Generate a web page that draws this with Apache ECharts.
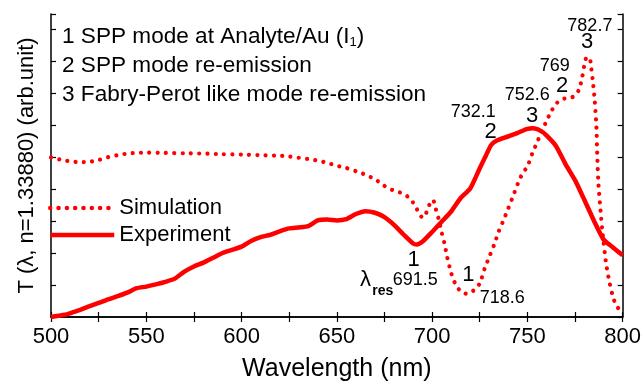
<!DOCTYPE html>
<html>
<head>
<meta charset="utf-8">
<script src="https://cdn.jsdelivr.net/npm/echarts@6/dist/echarts.min.js"></script>
<style>
html,body{margin:0;padding:0;background:#fff;}
#chart{width:644px;height:387px;}
</style>
</head>
<body>
<div id="chart"></div>
<script>
const FONT = '"Liberation Sans", Arial, Helvetica, sans-serif';

// simulated transmission, wavelength in nm
const simWl = [500, 505, 510, 515, 520, 525, 530, 535, 540, 545, 550, 560, 570, 580, 590, 600,
    610, 620, 625, 630, 635, 640, 645, 650, 655, 660, 665, 670, 675, 680, 685, 688, 690, 692.5,
    695, 697.5, 699, 700.5, 702, 703.5, 705, 706.5, 708, 710, 712, 715, 718.6, 722, 725, 727.5,
    730, 732.5, 735, 737.5, 740, 742.5, 745, 747.5, 750, 752.5, 755, 757.5, 760, 762.5, 765, 768,
    772, 775, 777, 778.5, 780, 781, 782.7, 783.5, 784.5, 785.3, 786.2, 786.7, 787.3, 788.4, 789.6,
    791.3, 793, 795.3, 797.5, 800];
const simT = [4.99, 4.92, 4.87, 4.84, 4.85, 4.91, 5.00, 5.06, 5.11, 5.13, 5.14, 5.13, 5.12, 5.11,
    5.09, 5.08, 5.06, 5.04, 5.02, 4.98, 4.94, 4.89, 4.82, 4.73, 4.66, 4.56, 4.45, 4.31, 4.10, 3.95,
    3.86, 3.72, 3.58, 3.32, 3.10, 3.32, 3.58, 3.66, 3.37, 3.05, 2.65, 2.30, 1.85, 1.38, 1.06, 0.80,
    0.72, 0.84, 1.05, 1.50, 1.88, 2.25, 2.68, 3.03, 3.40, 3.78, 4.17, 4.50, 4.70, 5.10, 5.45, 5.80,
    6.12, 6.43, 6.66, 6.82, 6.84, 6.92, 7.10, 7.42, 7.90, 8.11, 8.10, 7.80, 7.30, 6.80, 6.00, 5.00,
    4.15, 3.32, 2.55, 1.68, 1.11, 0.55, 0.29, 0.10];

// measured transmission
const expWl = [500, 504, 508, 512, 516, 520, 525, 530, 535, 540, 545, 550, 555, 560, 565, 570,
    575, 580, 585, 590, 595, 600, 605, 610, 615, 620, 625, 630, 635, 640, 645, 650, 655, 660, 665,
    670, 675, 680, 685, 690, 692, 695, 700, 705, 710, 715, 720, 725, 728, 731, 734, 740, 745, 750,
    753, 757, 760, 765, 770, 775, 780, 785, 790, 794, 800];
const expT = [0.00, 0.04, 0.08, 0.16, 0.24, 0.33, 0.44, 0.55, 0.65, 0.76, 0.90, 0.95, 1.02, 1.10,
    1.20, 1.42, 1.58, 1.70, 1.85, 2.00, 2.10, 2.20, 2.38, 2.50, 2.57, 2.68, 2.77, 2.80, 2.84, 3.02,
    3.05, 3.02, 3.06, 3.22, 3.31, 3.26, 3.12, 2.88, 2.58, 2.30, 2.27, 2.36, 2.66, 2.98, 3.30, 3.72,
    4.02, 4.65, 5.02, 5.38, 5.52, 5.65, 5.76, 5.88, 5.90, 5.82, 5.68, 5.35, 4.78, 4.28, 3.65, 3.00,
    2.42, 2.22, 1.93];

const xMin = 500, xMax = 800, xStep = 50;
const yMax = 9.475;

// peak / dip labels: text, wavelength, value, kind
const notes = [
    ['1', 690.3, 1.79, 'big'],
    ['λ', 665.0, 1.17, 'big'],
    ['res', 674.1, 0.80, 'sub'],
    ['691.5', 691.2, 1.17, 'num'],
    ['1', 719.0, 1.33, 'big'],
    ['718.6', 736.8, 0.60, 'num'],
    ['732.1', 721.6, 6.42, 'num'],
    ['2', 730.7, 5.79, 'big'],
    ['3', 752.5, 6.29, 'big'],
    ['752.6', 749.9, 6.94, 'num'],
    ['2', 768.2, 7.23, 'big'],
    ['769', 764.4, 7.85, 'num'],
    ['3', 781.4, 8.59, 'big'],
    ['782.7', 782.8, 9.10, 'num']
];
const modeLines = [
    '1 SPP mode at Analyte/Au (I{s|1})',
    '2 SPP mode re-emission',
    '3 Fabry-Perot like mode re-emission'
];

const pairs = (xs, ys) => xs.map((x, i) => [x, ys[i]]);

const chart = echarts.init(document.getElementById('chart'));

const frame = { show: true, lineStyle: { color: '#000', width: 1.5 } };
const tick = { show: true, inside: true, length: 5, lineStyle: { color: '#000', width: 1.2 } };
const minor = { show: true, splitNumber: 2, length: 5, lineStyle: { color: '#000', width: 1.2 } };

const option = {
    animation: false,
    backgroundColor: '#fff',
    grid: { left: 51, right: 19, top: 14, bottom: 66 },
    legend: {
        orient: 'vertical',
        left: 48,
        top: 197,
        padding: 0,
        itemWidth: 64,
        itemHeight: 12,
        itemGap: 5,
        data: ['Simulation', 'Experiment'],
        itemStyle: { opacity: 0 },
        lineStyle: { width: 4.5 },
        textStyle: { fontFamily: FONT, fontSize: 22, color: '#000' }
    },
    xAxis: [{
        type: 'value', min: xMin, max: xMax, interval: xStep,
        axisLine: frame, axisTick: tick, minorTick: minor,
        splitLine: { show: false },
        axisLabel: { fontFamily: FONT, fontSize: 22, color: '#000', margin: 9,
            showMinLabel: true, showMaxLabel: true },
        name: 'Wavelength (nm)', nameLocation: 'middle', nameGap: 40,
        nameTextStyle: { fontFamily: FONT, fontSize: 25, color: '#000' }
    }, {
        type: 'value', position: 'top', min: xMin, max: xMax, interval: xStep,
        axisLine: frame, axisTick: tick, minorTick: minor,
        splitLine: { show: false }, axisLabel: { show: false }
    }],
    yAxis: [{
        type: 'value', min: 0, max: yMax, interval: 1,
        axisLine: frame, axisTick: tick,
        splitLine: { show: false }, axisLabel: { show: false },
        name: 'T (λ, n=1.33880) (arb.unit)', nameLocation: 'middle', nameGap: 13,
        nameTextStyle: { fontFamily: FONT, fontSize: 22, color: '#000' }
    }, {
        type: 'value', position: 'right', min: 0, max: yMax, interval: 1,
        axisLine: frame, axisTick: tick,
        splitLine: { show: false }, axisLabel: { show: false }
    }],
    series: [{
        name: 'Experiment',
        type: 'line',
        data: pairs(expWl, expT),
        showSymbol: false, symbol: 'none', smooth: 0.2,
        itemStyle: { color: '#ff0000' },
        lineStyle: { color: '#ff0000', width: 4.5 }
    }, {
        name: 'Simulation',
        type: 'line',
        data: pairs(simWl, simT),
        showSymbol: false, symbol: 'none', smooth: 0.2,
        itemStyle: { color: '#ff0000' },
        lineStyle: { color: '#ff0000', width: 4.2, type: [0.01, 8.3], cap: 'round' }
    }]
};
chart.setOption(option);

const sizes = { big: 22, num: 18, sub: 14 };
const graphics = notes.map(([text, wl, v, kind]) => {
    const p = chart.convertToPixel({ xAxisIndex: 0, yAxisIndex: 0 }, [wl, v]);
    return {
        type: 'text', x: p[0], y: p[1], silent: true,
        style: {
            text: text, fill: '#000', align: 'center', verticalAlign: 'middle',
            font: (kind === 'sub' ? 'bold ' : '') + sizes[kind] + 'px ' + FONT
        }
    };
});
modeLines.forEach((t, i) => {
    graphics.push({
        type: 'text', left: 62, top: 25 + i * 29, silent: true,
        style: {
            text: t, fill: '#000', font: '22.6px ' + FONT,
            rich: { s: { fontSize: 13, fontFamily: FONT, fill: '#000', padding: [12, 0, 0, 0] } }
        }
    });
});
chart.setOption({ graphic: graphics });
</script>
</body>
</html>
